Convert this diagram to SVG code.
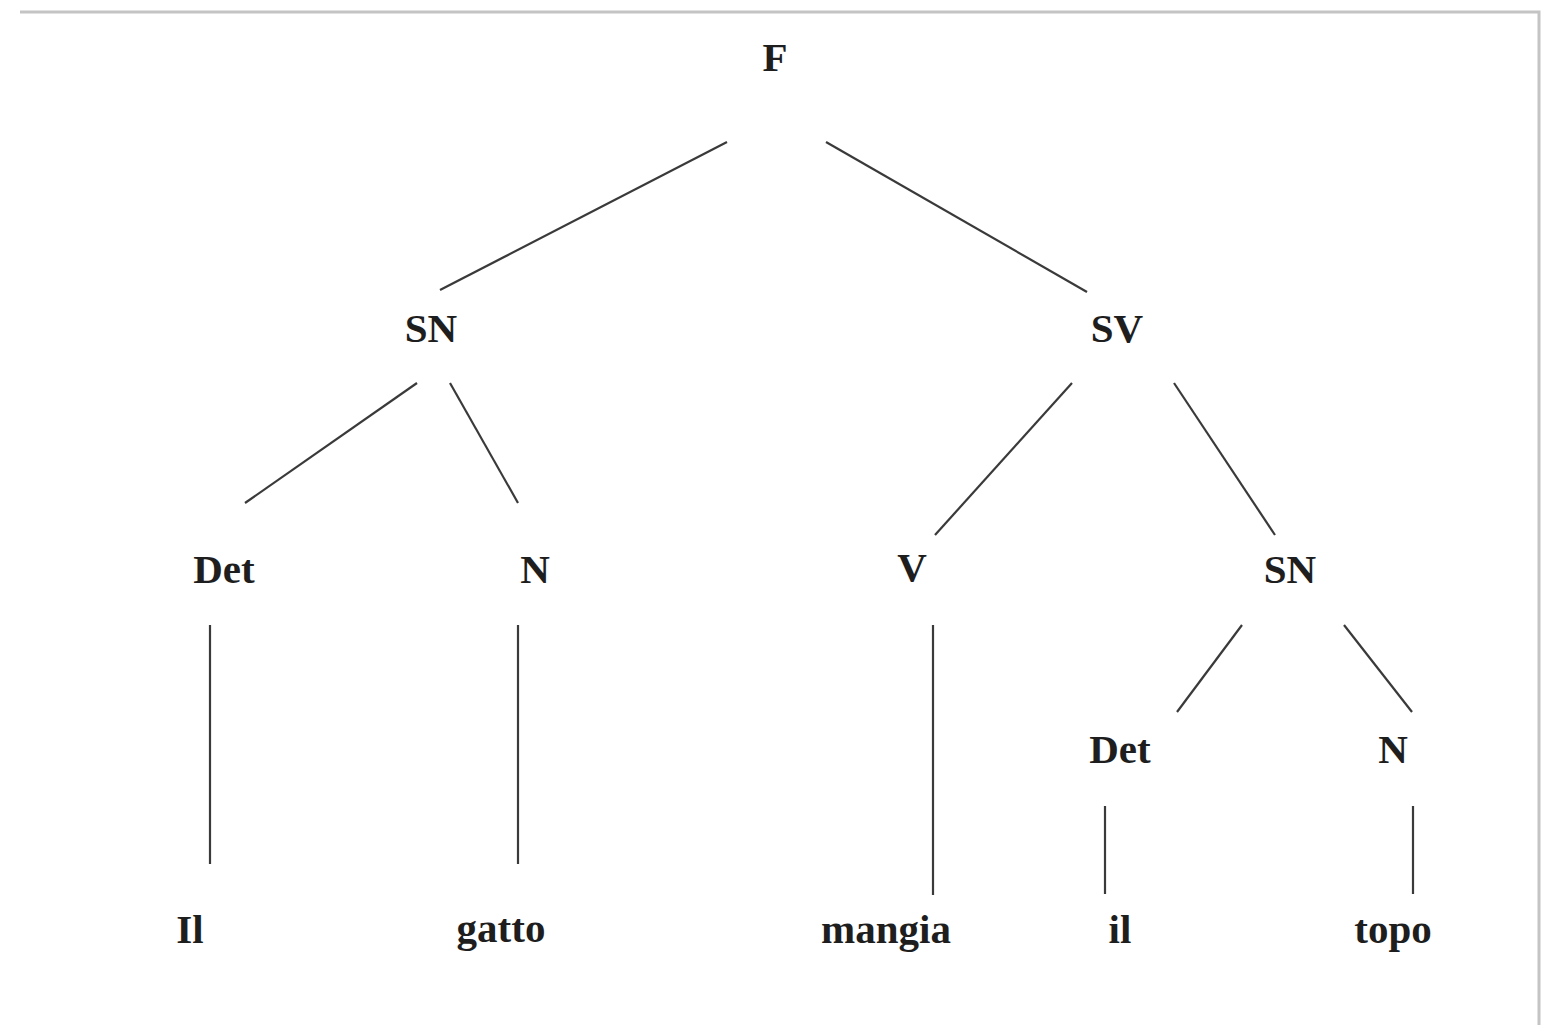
<svg xmlns="http://www.w3.org/2000/svg" width="1550" height="1025" viewBox="0 0 1550 1025">
  <style>
    .lbl { font-family: "Liberation Serif", "Times New Roman", serif; font-weight: bold; font-size: 41px; fill: #1e1e1e; text-anchor: middle; }
    .edge { stroke: #3a3a3a; stroke-width: 2.2; stroke-linecap: butt; fill: none; }
    .frame { stroke: #c4c4c4; stroke-width: 3; fill: none; }
  </style>
  <rect x="0" y="0" width="1550" height="1025" fill="#ffffff"/>
  <!-- page frame: top and right edge -->
  <path class="frame" d="M20 12 H1539 V1025"/>

  <g id="connectors">
    <line class="edge" x1="727" y1="142" x2="440" y2="290"/>
    <line class="edge" x1="826" y1="142" x2="1087" y2="292"/>
    <line class="edge" x1="417" y1="383" x2="245" y2="503"/>
    <line class="edge" x1="450" y1="383" x2="518" y2="503"/>
    <line class="edge" x1="1072" y1="383" x2="935" y2="535"/>
    <line class="edge" x1="1174" y1="383" x2="1275" y2="535"/>
    <line class="edge" x1="210" y1="625" x2="210" y2="864"/>
    <line class="edge" x1="518" y1="625" x2="518" y2="864"/>
    <line class="edge" x1="933" y1="625" x2="933" y2="895"/>
    <line class="edge" x1="1242" y1="625" x2="1177" y2="712"/>
    <line class="edge" x1="1344" y1="625" x2="1412" y2="712"/>
    <line class="edge" x1="1105" y1="806" x2="1105" y2="894"/>
    <line class="edge" x1="1413" y1="806" x2="1413" y2="894" stroke="#6a5a55"/>
  </g>

  <g id="F"><text class="lbl" x="775" y="71">F</text></g>
  <g id="SN1"><text class="lbl" x="431" y="342">SN</text></g>
  <g id="SV"><text class="lbl" x="1117" y="342">SV</text></g>
  <g id="Det1"><text class="lbl" x="224" y="583">Det</text></g>
  <g id="N1"><text class="lbl" x="535" y="583">N</text></g>
  <g id="V"><text class="lbl" x="912" y="581">V</text></g>
  <g id="SN2"><text class="lbl" x="1290" y="583">SN</text></g>
  <g id="Det2"><text class="lbl" x="1120" y="763">Det</text></g>
  <g id="N2"><text class="lbl" x="1393" y="763">N</text></g>
  <g id="w-Il"><text class="lbl" x="190" y="943">Il</text></g>
  <g id="w-gatto"><text class="lbl" x="501" y="942">gatto</text></g>
  <g id="w-mangia"><text class="lbl" x="886" y="943">mangia</text></g>
  <g id="w-il"><text class="lbl" x="1120" y="943">il</text></g>
  <g id="w-topo"><text class="lbl" x="1393" y="943">topo</text></g>
</svg>
